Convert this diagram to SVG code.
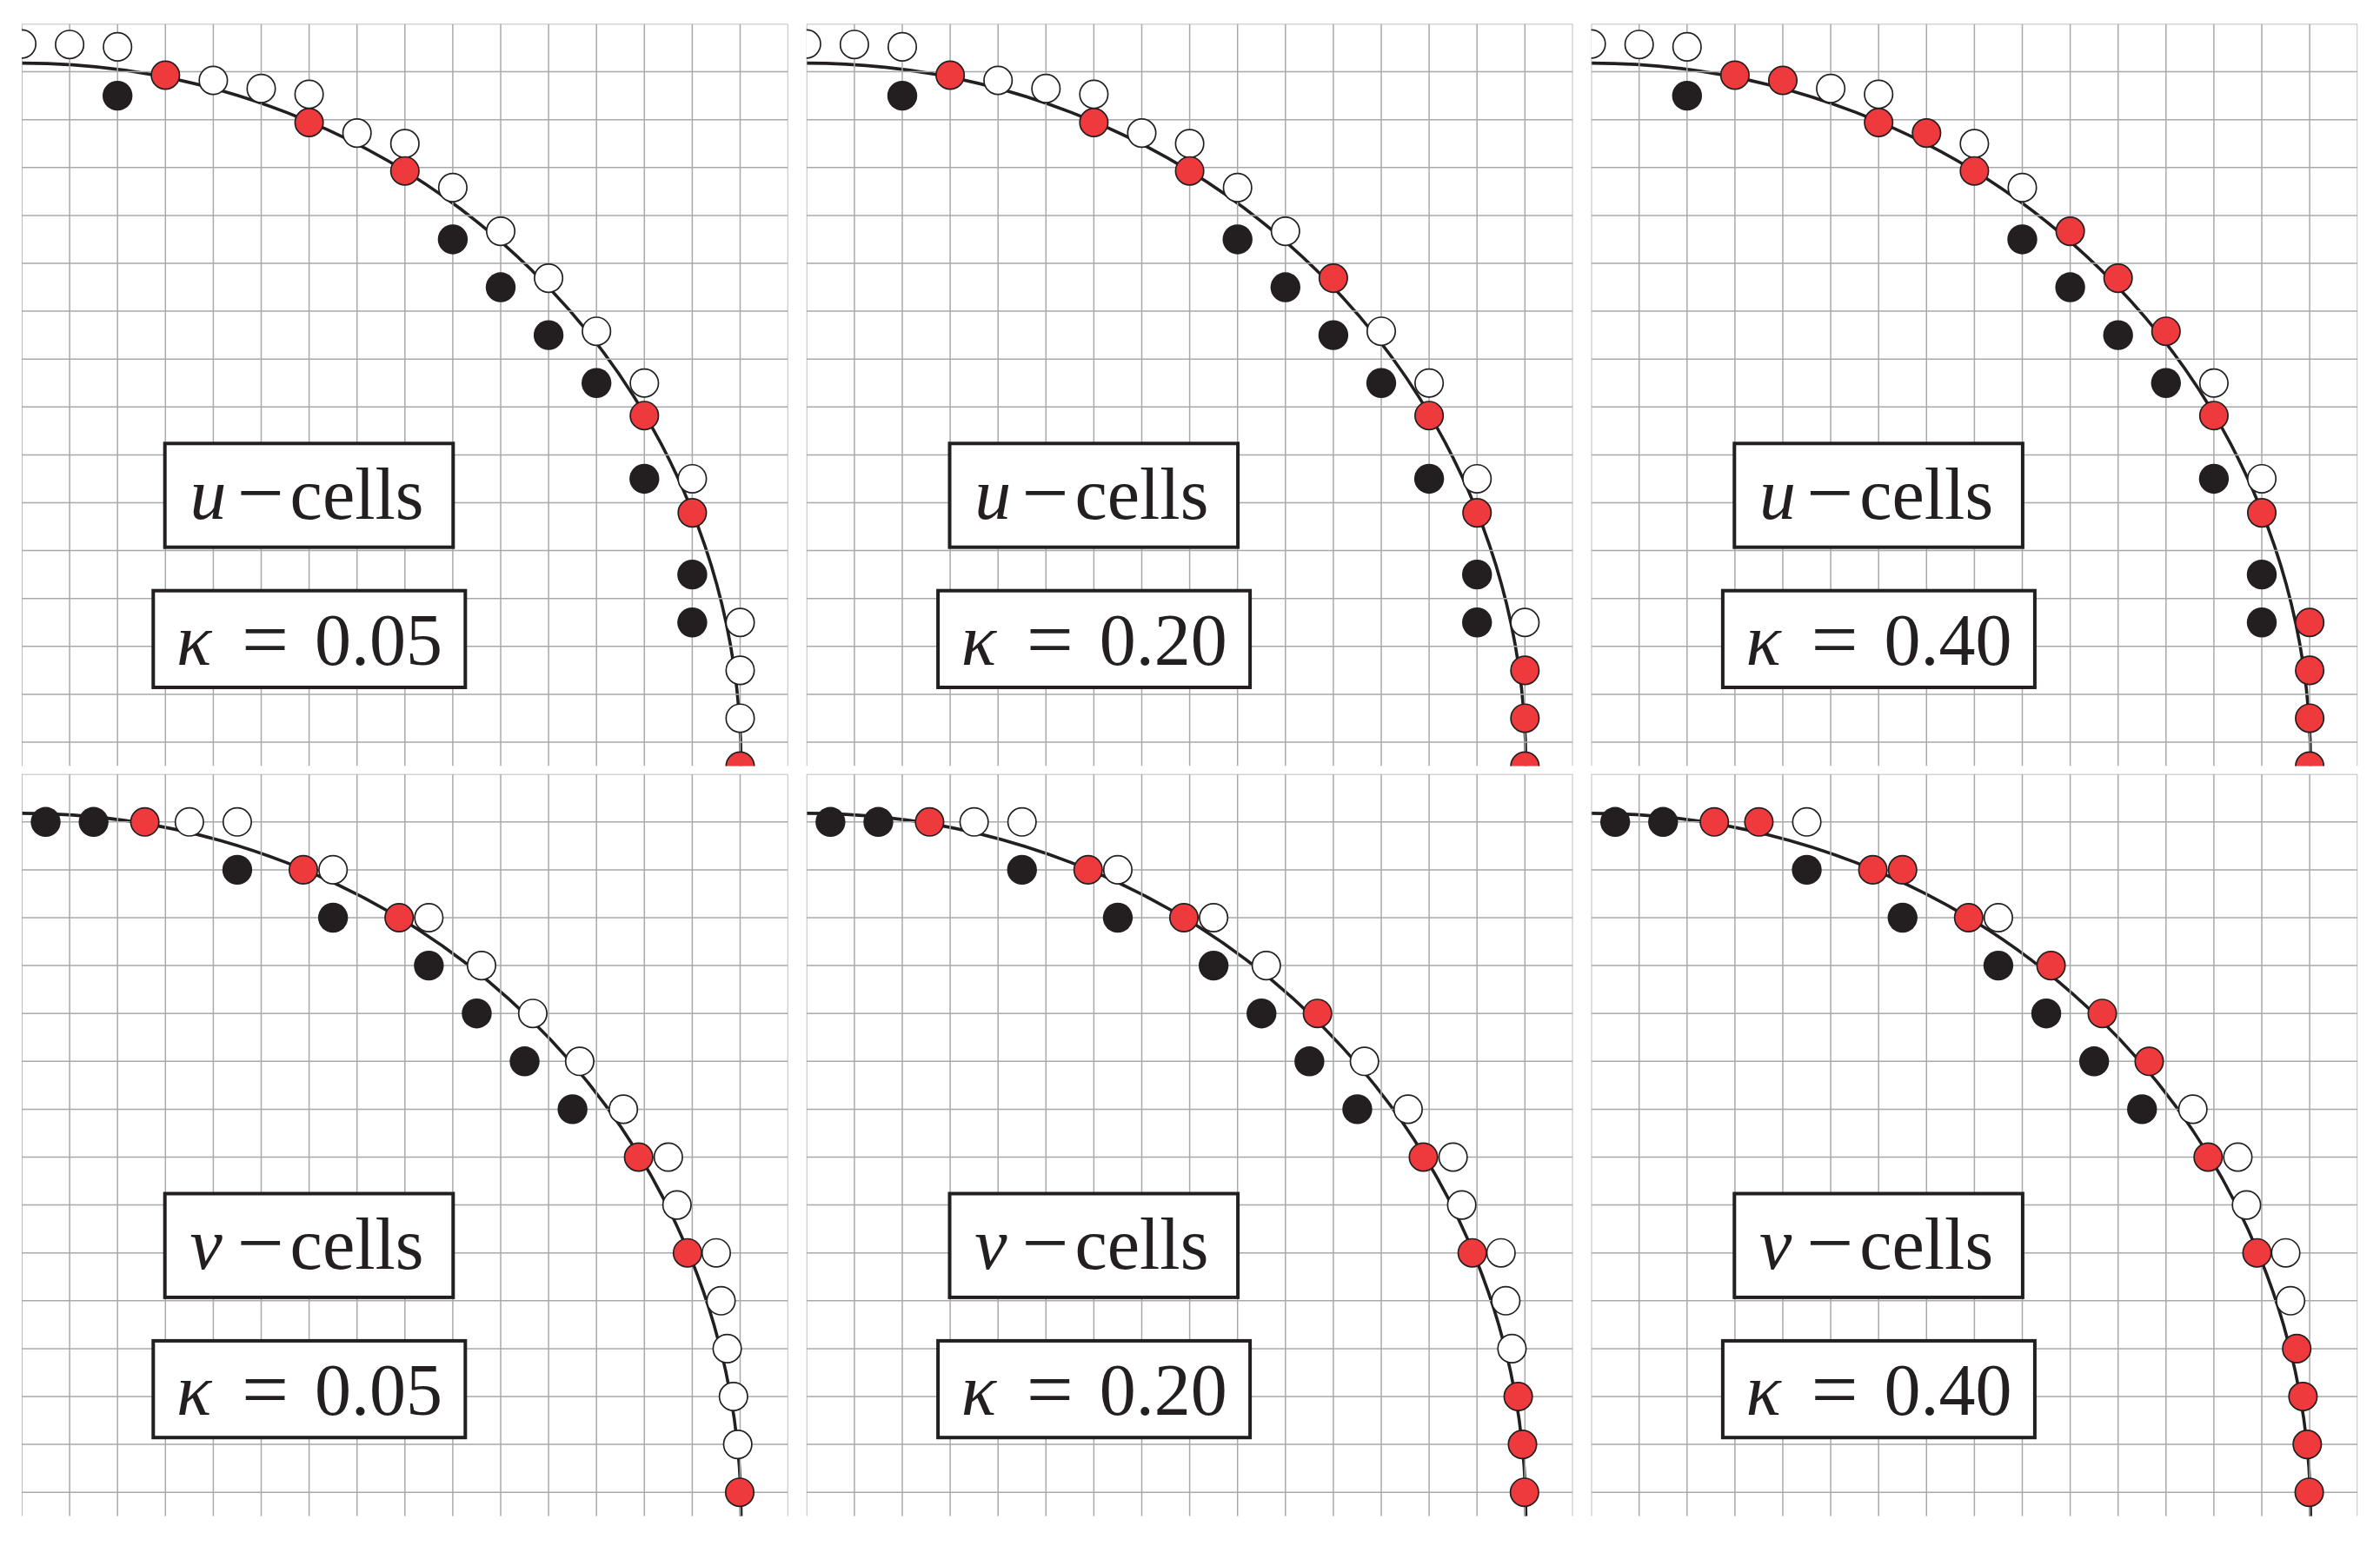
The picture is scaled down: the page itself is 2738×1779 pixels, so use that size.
<svg xmlns="http://www.w3.org/2000/svg" width="2738" height="1779" viewBox="0 0 2738 1779">
<defs>
<style>
.gridlines{fill:none;stroke:#a7a9ac;stroke-width:1.5}
.curve{fill:none;stroke:#231f20;stroke-width:3.6}
.w{fill:#ffffff;stroke:#231f20;stroke-width:1.7}
.r{fill:#ee3a3c;stroke:#231f20;stroke-width:1.7}
.b{fill:#231f20}
.box{fill:#ffffff;stroke:#231f20;stroke-width:4}
.lbl{font-family:"Liberation Serif","Times New Roman",serif;font-size:84px;fill:#231f20}
.it{font-style:italic}
.op{font-size:96px}
</style>
<clipPath id="clip"><rect x="0" y="0" width="881.6" height="854.05"/></clipPath>
<path id="grid" class="gridlines" d="M0 0V854.05M55.1 0V854.05M110.2 0V854.05M165.3 0V854.05M220.4 0V854.05M275.5 0V854.05M330.6 0V854.05M385.7 0V854.05M440.8 0V854.05M495.9 0V854.05M551 0V854.05M606.1 0V854.05M661.2 0V854.05M716.3 0V854.05M771.4 0V854.05M826.5 0V854.05M881.6 0V854.05M0 0H881.6M0 55.1H881.6M0 110.2H881.6M0 165.3H881.6M0 220.4H881.6M0 275.5H881.6M0 330.6H881.6M0 385.7H881.6M0 440.8H881.6M0 495.9H881.6M0 551H881.6M0 606.1H881.6M0 661.2H881.6M0 716.3H881.6M0 771.4H881.6M0 826.5H881.6"/>
<path id="arc" class="curve" d="M0 45.15A827.6 808.9 0 0 1 827.6 854.05"/>
<circle id="W" class="w" r="16.2"/>
<circle id="R" class="r" r="16.2"/>
<circle id="B" class="b" r="17.2"/>
<g id="ucommon">
<use href="#W" x="0" y="23.1"/><use href="#W" x="55.1" y="23.7"/><use href="#W" x="110.2" y="26.4"/><use href="#W" x="275.5" y="74.4"/><use href="#W" x="330.6" y="81"/><use href="#W" x="440.8" y="137.75"/><use href="#W" x="495.9" y="188.4"/><use href="#W" x="716.3" y="413.25"/><use href="#W" x="771.4" y="523.45"/>
<use href="#B" x="110.2" y="82.65"/><use href="#B" x="495.9" y="247.95"/><use href="#B" x="551" y="303.05"/><use href="#B" x="606.1" y="358.15"/><use href="#B" x="661.2" y="413.25"/><use href="#B" x="716.3" y="523.45"/><use href="#B" x="771.4" y="633.65"/><use href="#B" x="771.4" y="688.75"/>
<use href="#R" x="165.3" y="59"/><use href="#R" x="330.6" y="113.5"/><use href="#R" x="440.8" y="169.2"/><use href="#R" x="716.3" y="450.7"/><use href="#R" x="771.4" y="562.6"/><use href="#R" x="826.5" y="854.05"/>
</g>
<g id="vcommon">
<use href="#W" x="247.95" y="55.1"/><use href="#W" x="468.35" y="165.3"/><use href="#W" x="692.1" y="385.7"/><use href="#W" x="743.85" y="440.8"/><use href="#W" x="753.8" y="495.9"/><use href="#W" x="798.95" y="551"/><use href="#W" x="804.5" y="606.1"/>
<use href="#B" x="27.55" y="55.1"/><use href="#B" x="82.65" y="55.1"/><use href="#B" x="247.95" y="110.2"/><use href="#B" x="358.15" y="165.3"/><use href="#B" x="468.35" y="220.4"/><use href="#B" x="523.45" y="275.5"/><use href="#B" x="578.55" y="330.6"/><use href="#B" x="633.65" y="385.7"/>
<use href="#R" x="141.6" y="55.1"/><use href="#R" x="324" y="110.2"/><use href="#R" x="434.2" y="165.3"/><use href="#R" x="709.7" y="440.8"/><use href="#R" x="765.9" y="551"/><use href="#R" x="826" y="826.5"/>
</g>
</defs>
<rect x="0" y="0" width="2738" height="1779" fill="#ffffff"/>

<g id="panel-u-k005" transform="translate(25,27.5)">
<g clip-path="url(#clip)">
<use href="#arc"/>
<use href="#grid"/>
<use href="#W" x="220.4" y="65"/><use href="#W" x="385.7" y="125.6"/><use href="#W" x="551" y="238.6"/><use href="#W" x="606.1" y="292.6"/><use href="#W" x="661.2" y="353.7"/><use href="#W" x="826.5" y="688.75"/><use href="#W" x="826.5" y="743.85"/><use href="#W" x="826.5" y="798.95"/>
<use href="#ucommon"/>
</g>
<rect class="box" x="164.7" y="482.8" width="331.6" height="119.4"/>
<text class="lbl" y="569.2"><tspan class="it" x="193.5">u</tspan><tspan class="op" x="247.5" y="571.5">−</tspan><tspan x="308.6" y="569.2">cells</tspan></text>
<rect class="box" x="151.3" y="652.2" width="359" height="111.3"/>
<text class="lbl" y="737.5"><tspan class="it" x="178">κ</tspan> <tspan class="op" x="253" y="740">=</tspan> <tspan x="337" y="737.5">0.05</tspan></text>
</g>

<g id="panel-u-k020" transform="translate(927.8,27.5)">
<g clip-path="url(#clip)">
<use href="#arc"/>
<use href="#grid"/>
<use href="#W" x="220.4" y="65"/><use href="#W" x="385.7" y="125.6"/><use href="#W" x="551" y="238.6"/><use href="#W" x="661.2" y="353.7"/><use href="#W" x="826.5" y="688.75"/>
<use href="#ucommon"/>
<use href="#R" x="606.1" y="292.6"/><use href="#R" x="826.5" y="743.85"/><use href="#R" x="826.5" y="798.95"/>
</g>
<rect class="box" x="164.7" y="482.8" width="331.6" height="119.4"/>
<text class="lbl" y="569.2"><tspan class="it" x="193.5">u</tspan><tspan class="op" x="247.5" y="571.5">−</tspan><tspan x="308.6" y="569.2">cells</tspan></text>
<rect class="box" x="151.3" y="652.2" width="359" height="111.3"/>
<text class="lbl" y="737.5"><tspan class="it" x="178">κ</tspan> <tspan class="op" x="253" y="740">=</tspan> <tspan x="337" y="737.5">0.20</tspan></text>
</g>

<g id="panel-u-k040" transform="translate(1830.6,27.5)">
<g clip-path="url(#clip)">
<use href="#arc"/>
<use href="#grid"/>
<use href="#ucommon"/>
<use href="#R" x="220.4" y="65"/><use href="#R" x="385.7" y="125.6"/><use href="#R" x="551" y="238.6"/><use href="#R" x="606.1" y="292.6"/><use href="#R" x="661.2" y="353.7"/><use href="#R" x="826.5" y="688.75"/><use href="#R" x="826.5" y="743.85"/><use href="#R" x="826.5" y="798.95"/>
</g>
<rect class="box" x="164.7" y="482.8" width="331.6" height="119.4"/>
<text class="lbl" y="569.2"><tspan class="it" x="193.5">u</tspan><tspan class="op" x="247.5" y="571.5">−</tspan><tspan x="308.6" y="569.2">cells</tspan></text>
<rect class="box" x="151.3" y="652.2" width="359" height="111.3"/>
<text class="lbl" y="737.5"><tspan class="it" x="178">κ</tspan> <tspan class="op" x="253" y="740">=</tspan> <tspan x="337" y="737.5">0.40</tspan></text>
</g>

<g id="panel-v-k005" transform="translate(25,890.7)">
<g clip-path="url(#clip)">
<use href="#arc"/>
<use href="#grid"/>
<use href="#W" x="192.85" y="55.1"/><use href="#W" x="358.15" y="110.2"/><use href="#W" x="528.96" y="220.4"/><use href="#W" x="587.9" y="275.5"/><use href="#W" x="641.9" y="330.6"/><use href="#W" x="811.6" y="661.2"/><use href="#W" x="818.8" y="716.3"/><use href="#W" x="823.7" y="771.4"/>
<use href="#vcommon"/>
</g>
<rect class="box" x="164.7" y="482.8" width="331.6" height="119.4"/>
<text class="lbl" y="569.2"><tspan class="it" x="193.5">v</tspan><tspan class="op" x="247.5" y="571.5">−</tspan><tspan x="308.6" y="569.2">cells</tspan></text>
<rect class="box" x="151.3" y="652.2" width="359" height="111.3"/>
<text class="lbl" y="737.5"><tspan class="it" x="178">κ</tspan> <tspan class="op" x="253" y="740">=</tspan> <tspan x="337" y="737.5">0.05</tspan></text>
</g>

<g id="panel-v-k020" transform="translate(927.8,890.7)">
<g clip-path="url(#clip)">
<use href="#arc"/>
<use href="#grid"/>
<use href="#W" x="192.85" y="55.1"/><use href="#W" x="358.15" y="110.2"/><use href="#W" x="528.96" y="220.4"/><use href="#W" x="641.9" y="330.6"/><use href="#W" x="811.6" y="661.2"/>
<use href="#vcommon"/>
<use href="#R" x="587.9" y="275.5"/><use href="#R" x="818.8" y="716.3"/><use href="#R" x="823.7" y="771.4"/>
</g>
<rect class="box" x="164.7" y="482.8" width="331.6" height="119.4"/>
<text class="lbl" y="569.2"><tspan class="it" x="193.5">v</tspan><tspan class="op" x="247.5" y="571.5">−</tspan><tspan x="308.6" y="569.2">cells</tspan></text>
<rect class="box" x="151.3" y="652.2" width="359" height="111.3"/>
<text class="lbl" y="737.5"><tspan class="it" x="178">κ</tspan> <tspan class="op" x="253" y="740">=</tspan> <tspan x="337" y="737.5">0.20</tspan></text>
</g>

<g id="panel-v-k040" transform="translate(1830.6,890.7)">
<g clip-path="url(#clip)">
<use href="#arc"/>
<use href="#grid"/>
<use href="#vcommon"/>
<use href="#R" x="192.85" y="55.1"/><use href="#R" x="358.15" y="110.2"/><use href="#R" x="528.96" y="220.4"/><use href="#R" x="587.9" y="275.5"/><use href="#R" x="641.9" y="330.6"/><use href="#R" x="811.6" y="661.2"/><use href="#R" x="818.8" y="716.3"/><use href="#R" x="823.7" y="771.4"/>
</g>
<rect class="box" x="164.7" y="482.8" width="331.6" height="119.4"/>
<text class="lbl" y="569.2"><tspan class="it" x="193.5">v</tspan><tspan class="op" x="247.5" y="571.5">−</tspan><tspan x="308.6" y="569.2">cells</tspan></text>
<rect class="box" x="151.3" y="652.2" width="359" height="111.3"/>
<text class="lbl" y="737.5"><tspan class="it" x="178">κ</tspan> <tspan class="op" x="253" y="740">=</tspan> <tspan x="337" y="737.5">0.40</tspan></text>
</g>
</svg>
